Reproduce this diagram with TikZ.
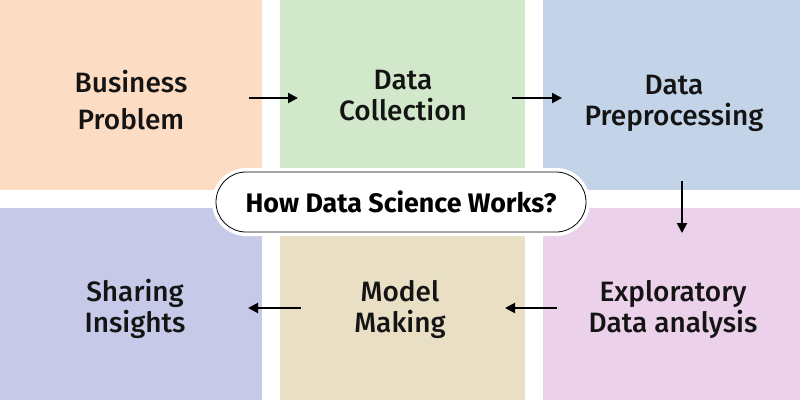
\documentclass[tikz,border=0pt]{standalone}
\usepackage{fontspec}
\setmainfont{Fira Sans Medium}
\newfontfamily\pillfont{Fira Sans Bold}
\usetikzlibrary{arrows.meta}
\definecolor{cpeach}{HTML}{FDDCC4}
\definecolor{cgreen}{HTML}{D2E8CA}
\definecolor{cblue}{HTML}{C3D3E8}
\definecolor{clav}{HTML}{C6C9E8}
\definecolor{cbeige}{HTML}{E8DFC5}
\definecolor{cpink}{HTML}{EBD1EA}
\tikzset{
  lbl/.style={align=center, font=\fontsize{28}{31}\selectfont, text=black!92, inner sep=0pt},
  flow/.style={-{Triangle[length=10pt,width=10pt]}, line width=2pt, black},
  pill/.style={draw=black, line width=0.8pt, fill=white, rounded corners=30pt, minimum width=370pt, minimum height=60pt, inner sep=0pt, font=\fontsize{26.8}{30}\pillfont}
}
\begin{document}
\begin{tikzpicture}[x=1pt,y=-1pt]
\useasboundingbox (0,0) rectangle (800,400);
\fill[white] (0,0) rectangle (800,400);
\fill[cpeach] (0,0) rectangle (262,190);
\fill[cgreen] (280,0) rectangle (525,190);
\fill[cblue] (543,0) rectangle (800,190);
\fill[clav] (0,208) rectangle (262,400);
\fill[cbeige] (280,208) rectangle (525,400);
\fill[cpink] (543,208) rectangle (800,400);
% labels
\node[lbl] (bp) at (131,100) {Business\\[6pt]Problem};
\node[lbl] (dc) at (403,96) {Data\\Collection};
\node[lbl] (dp) at (674,103) {Data\\Preprocessing};
\node[lbl] (si) at (135,309) {Sharing\\Insights};
\node[lbl] (mm) at (400,309) {Model\\Making};
\node[lbl] (ed) at (673,309) {Exploratory\\Data analysis};
% center pill with halo
\fill[white, rounded corners=34pt] (212,168) rectangle (590,236);
\node[pill] (how) at (401,202) {How Data Science Works?};
% arrow endpoints
\coordinate (a1s) at (249,98); \coordinate (a1e) at (298,98);
\coordinate (a2s) at (512,98); \coordinate (a2e) at (562,98);
\coordinate (a3s) at (682,181); \coordinate (a3e) at (682,233);
\coordinate (a4s) at (557,308); \coordinate (a4e) at (505,308);
\coordinate (a5s) at (301,308); \coordinate (a5e) at (248,308);
\draw[flow] (a1s) -- (a1e);
\draw[flow] (a2s) -- (a2e);
\draw[flow] (a3s) -- (a3e);
\draw[flow] (a4s) -- (a4e);
\draw[flow] (a5s) -- (a5e);
\end{tikzpicture}
\end{document}
